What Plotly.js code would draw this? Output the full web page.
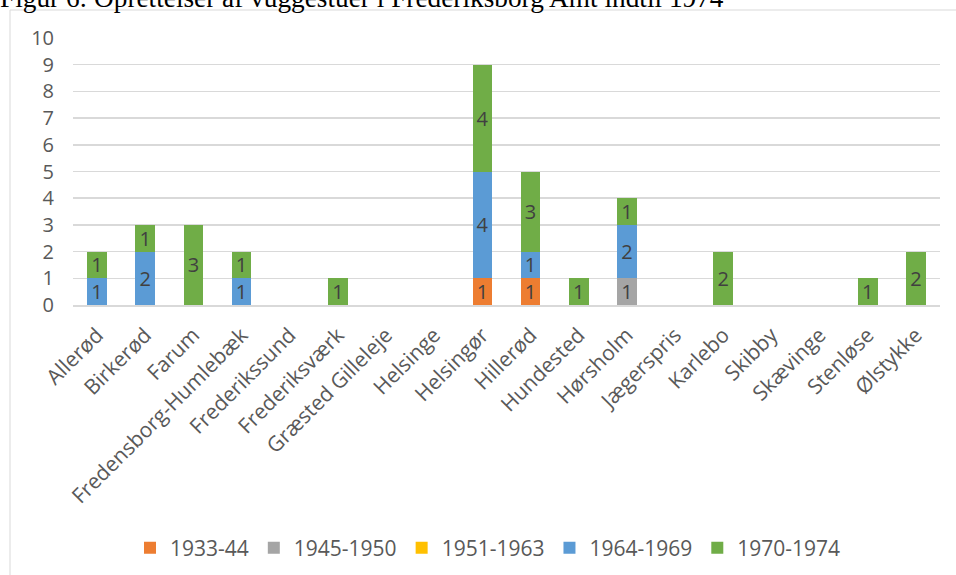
<!DOCTYPE html>
<html>
<head>
<meta charset="utf-8">
<script src="https://cdn.plot.ly/plotly-3.0.1.min.js"></script>
<style>html,body{margin:0;padding:0;background:#fff;}#chart{width:956px;height:575px;}</style>
</head>
<body>
<div id="chart"></div>
<script>
const titleText = "Figur 6: Oprettelser af vuggestuer i Frederiksborg Amt indtil 1974";
const categories = ["Allerød","Birkerød","Farum","Fredensborg-Humlebæk","Frederikssund","Frederiksværk","Græsted Gilleleje","Helsinge","Helsingør","Hillerød","Hundested","Hørsholm","Jægerspris","Karlebo","Skibby","Skævinge","Stenløse","Ølstykke"];
const seriesNames = ["1933-44","1945-1950","1951-1963","1964-1969","1970-1974"];
const s1933_44   = [null,null,null,null,null,null,null,null,1,1,null,null,null,null,null,null,null,null];
const s1945_1950 = [null,null,null,null,null,null,null,null,null,null,null,1,null,null,null,null,null,null];
const s1951_1963 = [null,null,null,null,null,null,null,null,null,null,null,null,null,null,null,null,null,null];
const s1964_1969 = [1,2,null,1,null,null,null,null,4,1,null,2,null,null,null,null,null,null];
const s1970_1974 = [1,1,3,1,null,1,null,null,4,3,1,1,null,2,null,null,1,2];
const yTicks = [0,1,2,3,4,5,6,7,8,9,10];
const colors = ["#ED7D31","#A5A5A5","#FFC000","#5B9BD5","#70AD47"];

const seriesValues = [s1933_44, s1945_1950, s1951_1963, s1964_1969, s1970_1974];
const FONT = "Open Sans, sans-serif";
const traces = seriesNames.map((name, i) => ({
  type: "bar",
  name: name,
  x: categories,
  y: seriesValues[i],
  text: seriesValues[i].map(v => v == null ? "" : String(v)),
  textposition: "inside",
  insidetextanchor: "middle",
  textangle: 0,
  constraintext: "none",
  textfont: {family: FONT, size: 20, color: "#404040"},
  marker: {color: colors[i], line: {width: 0}},
  hoverinfo: "x+y+name"
}));

const L = 73, R = 16, T = 38, B = 270;
const W = 956, H = 575;
const pw = W - L - R, ph = H - T - B;

const layout = {
  width: W, height: H,
  barmode: "stack",
  bargap: 0.59,
  paper_bgcolor: "#ffffff",
  plot_bgcolor: "#ffffff",
  margin: {l: L, r: R, t: T, b: B, pad: 0, autoexpand: false},
  font: {family: FONT, color: "#595959", size: 20},
  showlegend: true,
  legend: {
    orientation: "h",
    x: (488 - L) / pw, xanchor: "center",
    y: (T + ph - 548) / ph, yanchor: "middle",
    font: {family: FONT, size: 21, color: "#595959"},
    traceorder: "normal",
    bgcolor: "rgba(0,0,0,0)"
  },
  xaxis: {
    type: "category",
    tickangle: -45,
    tickfont: {family: FONT, size: 21, color: "#595959"},
    ticklabelstandoff: 8,
    showgrid: false,
    showline: true,
    linecolor: "#D9D9D9",
    linewidth: 1.5,
    ticks: "",
    automargin: false,
    fixedrange: true
  },
  yaxis: {
    range: [0, 10],
    tickvals: yTicks,
    ticktext: yTicks.map(String),
    tickfont: {family: FONT, size: 20, color: "#595959"},
    showgrid: true,
    gridcolor: "#D9D9D9",
    gridwidth: 1.5,
    zeroline: false,
    showline: false,
    ticks: "",
    ticklabelstandoff: 18,
    automargin: false,
    fixedrange: true
  },
  shapes: [{
    type: "rect", xref: "paper", yref: "paper",
    x0: (10 - L) / pw, x1: (W + 20 - L) / pw,
    y0: (T + ph - (H + 20)) / ph, y1: (T + ph - 10) / ph,
    line: {color: "#D9D9D9", width: 1}, fillcolor: "rgba(0,0,0,0)", layer: "below"
  }],
  annotations: [{
    text: titleText,
    xref: "paper", yref: "paper",
    x: (-2 - L) / pw, xanchor: "left",
    y: (T + ph - 15) / ph, yanchor: "bottom",
    showarrow: false,
    font: {family: "Liberation Serif, Times New Roman, serif", size: 27.3, color: "#000000"}
  }]
};

Plotly.newPlot("chart", traces, layout, {displayModeBar: false, staticPlot: true});
</script>
</body>
</html>
